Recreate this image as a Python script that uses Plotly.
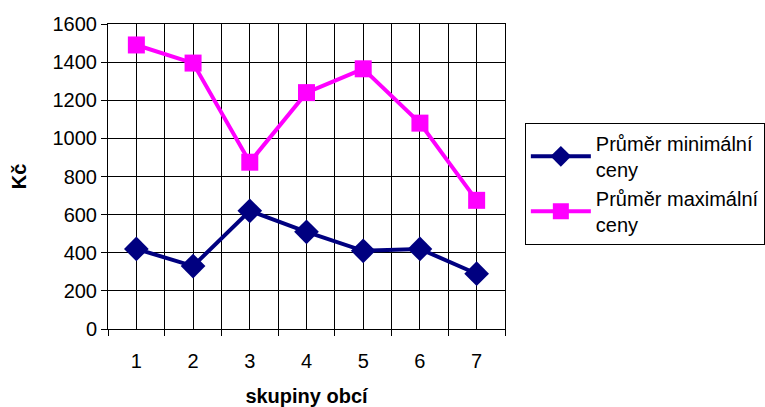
import plotly.graph_objects as go

# Skupiny obcí (kategorie na ose x)
groups = [1, 2, 3, 4, 5, 6, 7]
# Průměrné ceny v Kč
avg_min_price = [420, 330, 620, 510, 410, 420, 290]
avg_max_price = [1490, 1395, 875, 1240, 1365, 1080, 675]

y_ticks = [0, 200, 400, 600, 800, 1000, 1200, 1400, 1600]
boundaries = [g - 0.5 for g in groups] + [groups[-1] + 0.5]

FONT = "Liberation Sans, Arial, sans-serif"

fig = go.Figure()
fig.add_trace(go.Scatter(
    x=groups, y=avg_min_price, mode="lines+markers",
    name="Průměr minimální<br>ceny",
    line=dict(color="#000080", width=4),
    marker=dict(symbol="diamond", size=19, color="#000080"),
))
fig.add_trace(go.Scatter(
    x=groups, y=avg_max_price, mode="lines+markers",
    name="Průměr maximální<br>ceny",
    line=dict(color="#FF00FF", width=4),
    marker=dict(symbol="square", size=17, color="#FF00FF"),
))

fig.update_layout(
    width=765, height=407,
    margin=dict(l=108, r=260, t=24, b=78, autoexpand=False),
    paper_bgcolor="white", plot_bgcolor="white",
    font=dict(family=FONT, size=20, color="black"),
    showlegend=True,
    legend=dict(
        x=1.05, y=0.676, xanchor="left", yanchor="top",
        bordercolor="black", borderwidth=1, bgcolor="white",
        font=dict(family=FONT, size=20), itemwidth=60,
        tracegroupgap=0,
    ),
    xaxis=dict(
        range=[0.5, 7.5], tickvals=groups, ticktext=[str(g) for g in groups],
        showgrid=True, gridcolor="black", gridwidth=1,
        ticks="", showline=True, linecolor="black", linewidth=1, mirror=True,
        zeroline=False, automargin=False,
        minor=dict(tickvals=boundaries, showgrid=True, gridcolor="black",
                   gridwidth=1, ticks="outside", ticklen=6, tickcolor="black"),
        title=dict(text="<b>skupiny obcí</b>", font=dict(size=20), standoff=20),
        ticklabelstandoff=14,
    ),
    yaxis=dict(
        range=[0, 1600], tickvals=y_ticks,
        showgrid=True, gridcolor="black", gridwidth=1,
        ticks="outside", ticklen=6, tickcolor="black",
        showline=True, linecolor="black", linewidth=1, mirror=True,
        zeroline=False, automargin=False,
        title=dict(text="<b>Kč</b>", font=dict(size=20), standoff=20),
    ),
)

fig.write_html("out.html")
